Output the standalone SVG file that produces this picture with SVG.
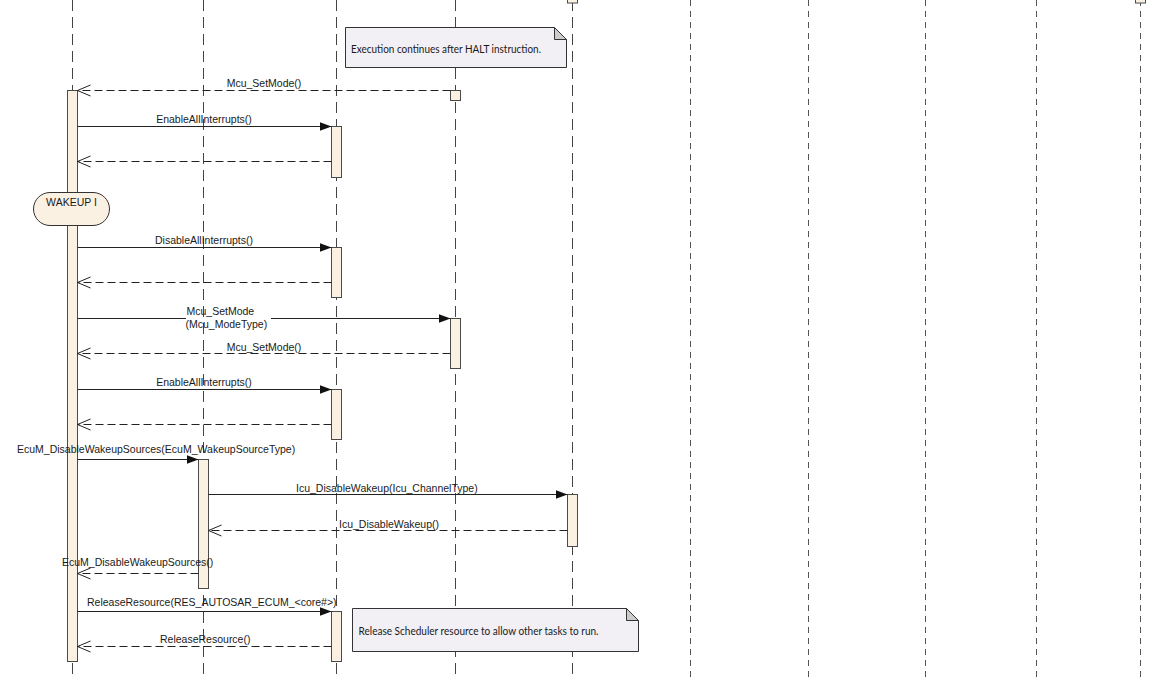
<svg xmlns="http://www.w3.org/2000/svg" width="1168" height="690" viewBox="0 0 1168 690">
<style>
.ll{stroke:#444;stroke-width:1;fill:none;stroke-dasharray:11 6}
.ll2{stroke:#555;stroke-width:1;fill:none;stroke-dasharray:6 5}
.act{fill:#FBF1E3;stroke:#4a4a4a;stroke-width:1}
.msg{stroke:#222;stroke-width:1;fill:none}
.ret{stroke:#222;stroke-width:1;fill:none;stroke-dasharray:8 4}
.lbl{font-family:"Liberation Sans",Arial,sans-serif;font-size:10.5px;fill:#1a1a1a}
.note{fill:#F3F0F5;stroke:#333;stroke-width:1}
.fold{fill:#CCCCCC;stroke:#333;stroke-width:1}
.ntxt{font-family:Lato,"Liberation Sans",sans-serif;font-size:10.5px;fill:#1a1a1a}
.state{fill:#FBF1E3;stroke:#333;stroke-width:1}
</style>
<defs>
<marker id="sync" markerUnits="userSpaceOnUse" viewBox="0 0 12 9" refX="12" refY="4.5" markerWidth="12" markerHeight="9" orient="auto"><path d="M0,0 L12,4.5 L0,9 Z" fill="#111"/></marker>
<marker id="open" markerUnits="userSpaceOnUse" viewBox="-1 -1 15 13" refX="13" refY="5.5" markerWidth="15" markerHeight="13" orient="auto"><path d="M0,0 L13,5.5 L0,11" fill="none" stroke="#222" stroke-width="1"/></marker>
</defs>
<rect width="1168" height="690" fill="#fff"/>

<g id="lifeline-72">
<line class="ll" x1="72.5" y1="0" x2="72.5" y2="677"/>
<rect class="act" x="67.5" y="90.5" width="10" height="571"/>
</g>
<g id="lifeline-203">
<line class="ll" x1="203.5" y1="0" x2="203.5" y2="677"/>
<rect class="act" x="198.5" y="459.5" width="10" height="129"/>
</g>
<g id="lifeline-336">
<line class="ll" x1="336.5" y1="0" x2="336.5" y2="677"/>
<rect class="act" x="331.5" y="126.5" width="10" height="51"/>
<rect class="act" x="331.5" y="247.5" width="10" height="50"/>
<rect class="act" x="331.5" y="389.5" width="10" height="50"/>
<rect class="act" x="331.5" y="611.5" width="10" height="50"/>
</g>
<g id="lifeline-455">
<line class="ll" x1="455.5" y1="0" x2="455.5" y2="677"/>
<rect class="act" x="450.5" y="90.5" width="10" height="10"/>
<rect class="act" x="450.5" y="318.5" width="10" height="50"/>
</g>
<g id="lifeline-572">
<line class="ll" x1="572.5" y1="0" x2="572.5" y2="677"/>
<rect class="act" x="567.5" y="-6" width="10" height="9"/>
<rect class="act" x="567.5" y="494.5" width="10" height="52"/>
</g>
<g id="lifeline-690"><line class="ll2" x1="690.5" y1="0" x2="690.5" y2="677"/></g>
<g id="lifeline-808"><line class="ll2" x1="808.5" y1="0" x2="808.5" y2="677"/></g>
<g id="lifeline-925"><line class="ll2" x1="925.5" y1="0" x2="925.5" y2="677"/></g>
<g id="lifeline-1036"><line class="ll2" x1="1036.5" y1="0" x2="1036.5" y2="677"/></g>
<g id="lifeline-1140">
<line class="ll2" x1="1140.5" y1="0" x2="1140.5" y2="677"/>
<rect class="act" x="1135.5" y="-6" width="10" height="9"/>
</g>

<g id="state-wakeup">
<rect class="state" x="33.5" y="192.5" width="76" height="33" rx="16.5"/>
<text class="lbl" x="71.5" y="205.5" text-anchor="middle">WAKEUP I</text>
</g>

<g id="note-halt">
<path class="note" d="M345.5,27.5 H554.5 L566.5,39.5 V67.5 H345.5 Z"/>
<path class="fold" d="M554.5,27.5 V39.5 H566.5 Z"/>
<text class="ntxt" x="351" y="52.5" textLength="190" lengthAdjust="spacingAndGlyphs">Execution continues after HALT instruction.</text>
</g>

<g id="note-release">
<path class="note" d="M352.5,608.5 H626.5 L638.5,620.5 V651.5 H352.5 Z"/>
<path class="fold" d="M626.5,608.5 V620.5 H638.5 Z"/>
<text class="ntxt" x="358.5" y="634.5" textLength="240" lengthAdjust="spacingAndGlyphs">Release Scheduler resource to allow other tasks to run.</text>
</g>

<g id="connectors">
<line class="ret" x1="450.5" y1="90.5" x2="77.5" y2="90.5" marker-end="url(#open)"/>
<text class="lbl" x="264" y="87" text-anchor="middle">Mcu_SetMode()</text>

<line class="msg" x1="77.5" y1="126.5" x2="331.5" y2="126.5" marker-end="url(#sync)"/>
<text class="lbl" x="204" y="122.5" text-anchor="middle">EnableAllInterrupts()</text>
<line class="ret" x1="331.5" y1="161.5" x2="77.5" y2="161.5" marker-end="url(#open)"/>

<line class="msg" x1="77.5" y1="247.5" x2="331.5" y2="247.5" marker-end="url(#sync)"/>
<text class="lbl" x="204" y="243.5" text-anchor="middle">DisableAllInterrupts()</text>
<line class="ret" x1="331.5" y1="282.5" x2="77.5" y2="282.5" marker-end="url(#open)"/>

<line class="msg" x1="77.5" y1="318.5" x2="186" y2="318.5"/>
<line class="msg" x1="271" y1="318.5" x2="450.5" y2="318.5" marker-end="url(#sync)"/>
<text class="lbl" x="186.5" y="314.5">Mcu_SetMode</text>
<text class="lbl" x="185.5" y="328">(Mcu_ModeType)</text>
<line class="ret" x1="450.5" y1="353.5" x2="77.5" y2="353.5" marker-end="url(#open)"/>
<text class="lbl" x="264" y="350.5" text-anchor="middle">Mcu_SetMode()</text>

<line class="msg" x1="77.5" y1="389.5" x2="331.5" y2="389.5" marker-end="url(#sync)"/>
<text class="lbl" x="204" y="385.5" text-anchor="middle">EnableAllInterrupts()</text>
<line class="ret" x1="331.5" y1="424.5" x2="77.5" y2="424.5" marker-end="url(#open)"/>

<line class="msg" x1="77.5" y1="459.5" x2="198.5" y2="459.5" marker-end="url(#sync)"/>
<text class="lbl" x="17" y="452.5">EcuM_DisableWakeupSources(EcuM_WakeupSourceType)</text>

<line class="msg" x1="208.5" y1="494.5" x2="567.5" y2="494.5" marker-end="url(#sync)"/>
<text class="lbl" x="296" y="492">Icu_DisableWakeup(Icu_ChannelType)</text>
<line class="ret" x1="567.5" y1="530.5" x2="208.5" y2="530.5" marker-end="url(#open)"/>
<text class="lbl" x="339" y="527.5">Icu_DisableWakeup()</text>

<line class="ret" x1="198.5" y1="573.5" x2="77.5" y2="573.5" marker-end="url(#open)"/>
<text class="lbl" x="62" y="566">EcuM_DisableWakeupSources()</text>

<line class="msg" x1="77.5" y1="611.5" x2="331.5" y2="611.5" marker-end="url(#sync)"/>
<text class="lbl" x="87" y="606">ReleaseResource(RES_AUTOSAR_ECUM_&lt;core#&gt;)</text>
<line class="ret" x1="331.5" y1="646.5" x2="77.5" y2="646.5" marker-end="url(#open)"/>
<text class="lbl" x="160" y="642.5">ReleaseResource()</text>
</g>
</svg>
